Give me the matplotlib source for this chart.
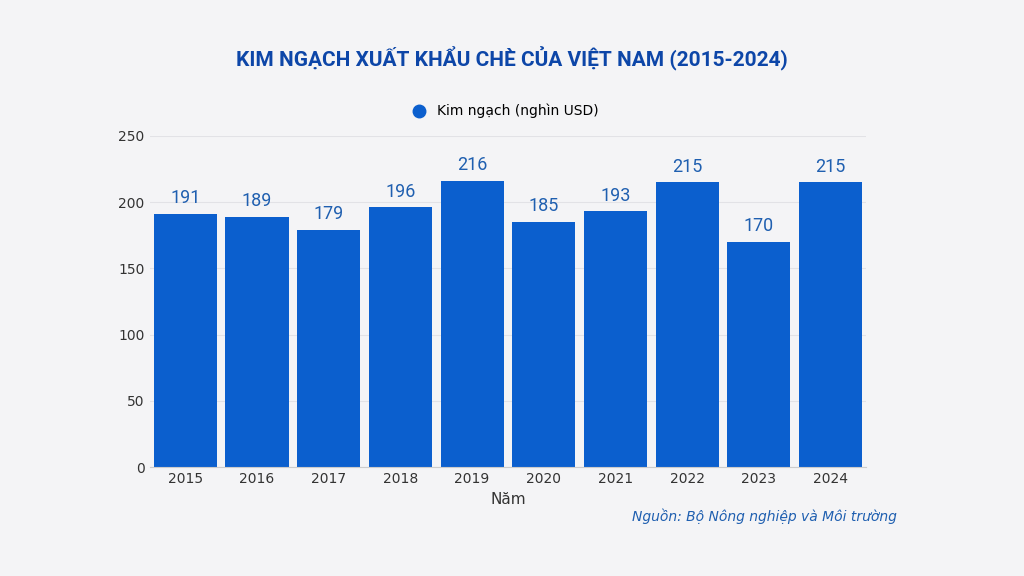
import matplotlib.pyplot as plt
from matplotlib.lines import Line2D

years = ["2015", "2016", "2017", "2018", "2019", "2020", "2021", "2022", "2023", "2024"]
values = [191, 189, 179, 196, 216, 185, 193, 215, 170, 215]

bar_color = "#0b5fce"
fig = plt.figure(figsize=(10.24, 5.76), dpi=100, facecolor="#f4f4f6")
ax = fig.add_axes([0.146, 0.189, 0.700, 0.575])
ax.set_facecolor("none")
ax.yaxis.grid(True, color="#e2e2e6", linewidth=0.8)
ax.set_axisbelow(True)

x = range(len(years))
ax.bar(x, values, width=0.88, color=bar_color)
for xi, v in zip(x, values):
    ax.text(xi, v + 5, str(v), ha="center", va="bottom", fontsize=13,
            color="#1f5fb0", family="Roboto")

ax.set_xticks(list(x))
ax.set_xticklabels(years)
ax.set_xlim(-0.5, len(years) - 0.5)
ax.set_ylim(0, 250)
ax.set_yticks([0, 50, 100, 150, 200, 250])
ax.tick_params(length=0, labelsize=10, colors="#333333")
for s in ["top", "right", "left"]:
    ax.spines[s].set_visible(False)
ax.spines["bottom"].set_color("#cccccc")
ax.set_xlabel("Năm", fontsize=11, color="#333333")

fig.text(0.5, 0.9, "KIM NGẠCH XUẤT KHẨU CHÈ CỦA VIỆT NAM (2015-2024)",
         ha="center", va="center", fontsize=15, fontweight="heavy",
         color="#0d46a8", family="Roboto")

handle = Line2D([], [], marker="o", linestyle="", color=bar_color, markersize=9)
fig.legend([handle], ["Kim ngạch (nghìn USD)"], loc="center",
           bbox_to_anchor=(0.49, 0.807), frameon=False, fontsize=10,
           handletextpad=0.3)

fig.text(0.876, 0.104, "Nguồn: Bộ Nông nghiệp và Môi trường", ha="right",
         va="center", fontsize=10, style="italic", color="#1f5fb0")

fig.savefig("out.png", dpi=100, facecolor=fig.get_facecolor())
